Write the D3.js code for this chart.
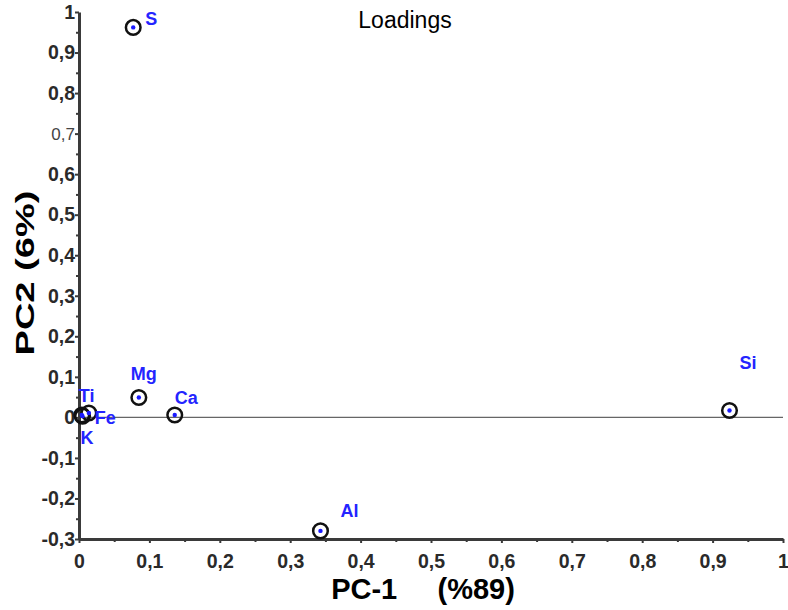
<!DOCTYPE html>
<html><head><meta charset="utf-8">
<script src="https://cdn.jsdelivr.net/npm/d3@7"></script>
<style>body{margin:0;background:#fff}svg{display:block}</style>
</head><body>
<svg id="c" width="788" height="610"></svg>
<script>
const labels = ["S","Mg","Ca","Ti","Fe","K","Si","Al"];
const pc1 = [0.077,0.085,0.136,0.004,0.014,0.005,0.924,0.343];
const pc2 = [0.962,0.049,0.006,0.006,0.011,0.003,0.017,-0.280];
const labelDx = [12,5,0,-3,6,-2,10,20];
const labelDy = [-8,-24,-17,-19,5,22,-47,-20];
const xTicks = [0,0.1,0.2,0.3,0.4,0.5,0.6,0.7,0.8,0.9,1];
const yTicks = [-0.3,-0.2,-0.1,0,0.1,0.2,0.3,0.4,0.5,0.6,0.7,0.8,0.9,1];

const FONT = "Arial, 'Liberation Sans', sans-serif";
const svg = d3.select("#c");
const x = d3.scaleLinear().domain([0,1]).range([79,783]);
const y = d3.scaleLinear().domain([-0.3,1]).range([539,12]);
const fmt = d => d===0?"0":(d===1?"1":d3.format(".1f")(d).replace(".",",").replace("−","-"));

// zero line
svg.append("line").attr("x1",x(0)).attr("x2",x(1)).attr("y1",y(0)).attr("y2",y(0))
  .attr("stroke","#666").attr("stroke-width",1.2);

// minor ticks
const xMinor = d3.range(0,20).map(i=>i*0.05+0.05).filter(v=>Math.round(v*100)%10!==0);
const yMinor = d3.range(0,26).map(i=>-0.25+i*0.05).filter(v=>Math.round(Math.abs(v)*100)%10!==0);

svg.append("g").attr("transform",`translate(0,${y(-0.3)})`)
  .call(d3.axisBottom(x).tickValues(xMinor).tickFormat("").tickSize(3).tickSizeOuter(0))
  .select(".domain").remove();
svg.append("g").attr("transform",`translate(${x(0)},0)`)
  .call(d3.axisLeft(y).tickValues(yMinor).tickFormat("").tickSize(3).tickSizeOuter(0))
  .select(".domain").remove();
const xa = svg.append("g").attr("transform",`translate(0,${y(-0.3)})`)
  .call(d3.axisBottom(x).tickValues(xTicks).tickFormat(fmt).tickSize(4).tickSizeOuter(0));
const ya = svg.append("g").attr("transform",`translate(${x(0)},0)`)
  .call(d3.axisLeft(y).tickValues(yTicks).tickFormat(fmt).tickSize(4).tickSizeOuter(0));
svg.selectAll(".domain").attr("stroke","#3a3a3a").attr("stroke-width",3);
svg.selectAll(".tick line").attr("stroke","#3a3a3a").attr("stroke-width",2);
[xa,ya].forEach(a=>a.selectAll("text").attr("font-family",FONT)
  .attr("font-size",19.5).attr("font-weight","bold").attr("fill","#2a2a2a"));
xa.selectAll("text").attr("y",15).attr("dy","0.71em");
ya.selectAll("text").attr("x",-4);
ya.selectAll(".tick text").filter(d=>Math.abs(d-0.7)<1e-9)
  .attr("font-size",17).attr("font-weight","normal").attr("fill","#444");

// points
const idx = d3.range(labels.length);
const g = svg.append("g");
g.selectAll("circle.ring").data(idx).join("circle").attr("class","ring")
  .attr("cx",i=>x(pc1[i])).attr("cy",i=>y(pc2[i])).attr("r",7.3)
  .attr("fill","none").attr("stroke","#111").attr("stroke-width",2.5);
g.selectAll("circle.dot").data(idx).join("circle").attr("class","dot")
  .attr("cx",i=>x(pc1[i])).attr("cy",i=>y(pc2[i])).attr("r",2.2)
  .attr("fill","#1a1aff");
g.selectAll("text").data(idx).join("text")
  .attr("x",i=>x(pc1[i])+labelDx[i]).attr("y",i=>y(pc2[i])+labelDy[i])
  .attr("font-family",FONT).attr("font-size",18)
  .attr("font-weight","bold").attr("fill","#2424ff")
  .attr("text-anchor",i=>labels[i]==="Mg"?"middle":"start")
  .attr("dominant-baseline","central")
  .text(i=>labels[i]);

// titles
svg.append("text").attr("x",405).attr("y",28).attr("text-anchor","middle")
  .attr("font-family",FONT).attr("font-size",23)
  .attr("fill","#000").text("Loadings");
svg.append("text").attr("x",423).attr("y",599).attr("text-anchor","middle")
  .attr("font-family",FONT).attr("font-size",29)
  .attr("font-weight","bold").attr("fill","#000").attr("xml:space","preserve")
  .text("PC-1     (%89)");
svg.append("text").attr("transform","translate(34,273) rotate(-90)").attr("text-anchor","middle")
  .attr("font-family",FONT).attr("font-size",25)
  .attr("font-weight","bold").attr("fill","#000")
  .attr("textLength",165).attr("lengthAdjust","spacingAndGlyphs")
  .text("PC2 (6%)");
</script>
</body></html>
